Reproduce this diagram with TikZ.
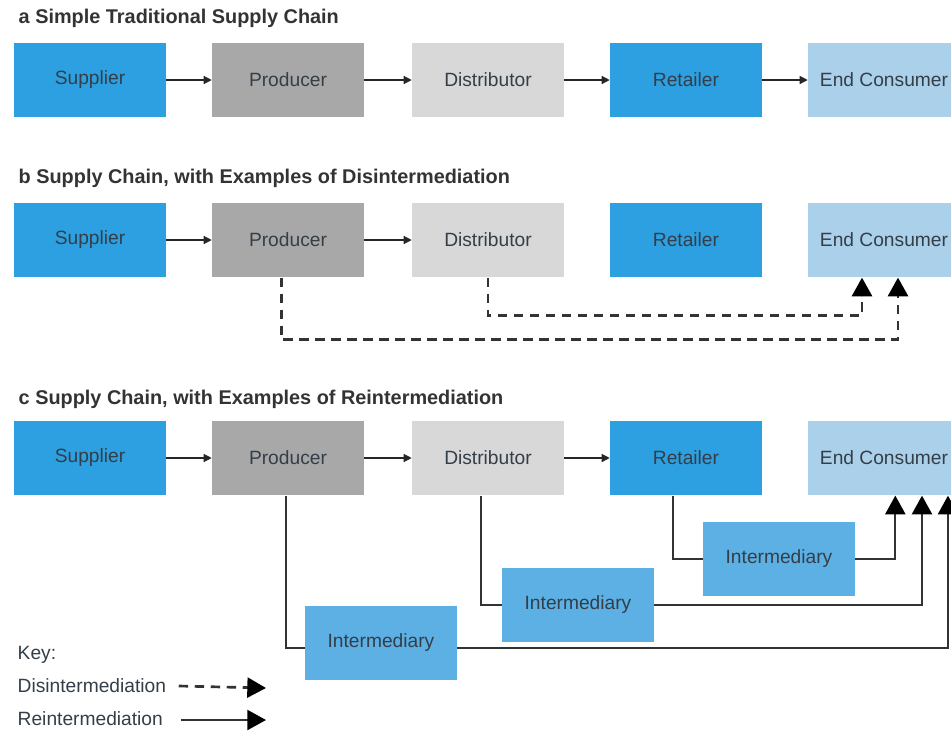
\documentclass[tikz,border=0pt]{standalone}
\usepackage{fontspec}
\setmainfont{Liberation Sans}
\usetikzlibrary{arrows.meta}

\definecolor{supblue}{RGB}{45,160,225}
\definecolor{prodgray}{RGB}{168,168,168}
\definecolor{distgray}{RGB}{216,216,216}
\definecolor{consblue}{RGB}{170,208,234}
\definecolor{interblue}{RGB}{92,176,228}
\definecolor{labeltext}{RGB}{52,62,72}

\begin{document}
\begin{tikzpicture}[x=0.75pt, y=-0.75pt,
	every node/.style={text=labeltext, font=\fontsize{14.4}{17}\selectfont},
	box/.style={inner sep=0pt, minimum width=114pt, minimum height=56pt},
	title/.style={anchor=west, text=black!80, font=\fontsize{14.9}{17}\selectfont\bfseries},
	flow/.style={draw=black!85, line width=0.9pt, -{Triangle[width=6pt,length=6pt]}},
	dis/.style={draw=black!80, line width=2pt, dash pattern=on 7pt off 5pt, -{Triangle[width=15pt,length=14pt,color=black]}},
	re/.style={draw=black!80, line width=1.6pt, -{Triangle[width=15pt,length=14pt,color=black]}}]
	\useasboundingbox (0,0) rectangle (951,733);

	% a
	\node[title] (ta) at (14,18) {a Simple Traditional Supply Chain};
	\node[box, fill=supblue] (supa) at (90,80) {Supplier};
	\node[box, fill=prodgray] (proda) at (288,80) {Producer};
	\node[box, fill=distgray] (dista) at (488,80) {Distributor};
	\node[box, fill=supblue] (reta) at (686,80) {Retailer};
	\node[box, fill=consblue] (consa) at (884,80) {End Consumer};
	\draw[flow] (supa) -- (proda);
	\draw[flow] (proda) -- (dista);
	\draw[flow] (dista) -- (reta);
	\draw[flow] (reta) -- (consa);

	% b
	\node[title] (tb) at (14,178) {b Supply Chain, with Examples of Disintermediation};
	\node[box, fill=supblue] (supb) at (90,240) {Supplier};
	\node[box, fill=prodgray] (prodb) at (288,240) {Producer};
	\node[box, fill=distgray] (distb) at (488,240) {Distributor};
	\node[box, fill=supblue] (retb) at (686,240) {Retailer};
	\node[box, fill=consblue] (consb) at (884,240) {End Consumer};
	\draw[flow] (supb) -- (prodb);
	\draw[flow] (prodb) -- (distb);
	\draw[dis] (distb.south) -- ++(0,38) -| ([xshift=-16.5pt]consb.south);
	\draw[dis] ([xshift=-5pt]prodb.south) -- ++(0,62) -| ([xshift=10.5pt]consb.south);

	% c
	\node[title] (tc) at (14,399) {c Supply Chain, with Examples of Reintermediation};
	\node[box, fill=supblue] (supc) at (90,458) {Supplier};
	\node[box, fill=prodgray] (prodc) at (288,458) {Producer};
	\node[box, fill=distgray] (distc) at (488,458) {Distributor};
	\node[box, fill=supblue] (retc) at (686,458) {Retailer};
	\node[box, fill=consblue] (consc) at (884,458) {End Consumer};
	\node[box, fill=interblue] (int3) at (779,559) {Intermediary};
	\node[box, fill=interblue] (int2) at (578,605) {Intermediary};
	\node[box, fill=interblue] (int1) at (381,643) {Intermediary};
	\draw[flow] (supc) -- (prodc);
	\draw[flow] (prodc) -- (distc);
	\draw[flow] (distc) -- (retc);
	\draw[re, -] ([xshift=-9.5pt]retc.south) |- (int3.west);
	\draw[re] (int3.east) -| ([xshift=8.5pt]consc.south);
	\draw[re, -] ([xshift=-5pt]distc.south) |- (int2.west);
	\draw[re] (int2.east) -| ([xshift=28.5pt]consc.south);
	\draw[re, -] ([xshift=-1.5pt]prodc.south) |- ([yshift=-3.5pt]int1.west);
	\draw[re] ([yshift=-3.5pt]int1.east) -| ([xshift=48pt]consc.south);

	% key
	\node[anchor=west] (key) at (13,655) {Key:};
	\node[anchor=west] (keydis) at (13,686) {Disintermediation};
	\node[anchor=west] (keyre) at (13,719) {Reintermediation};
	\coordinate (disend) at (266,688);
	\coordinate (reend) at (266,720);
	\draw[dis] ([xshift=6pt]keydis.east) -- (disend);
	\draw[re] ([xshift=10pt]keyre.east |- reend) -- (reend);
\end{tikzpicture}
\end{document}
